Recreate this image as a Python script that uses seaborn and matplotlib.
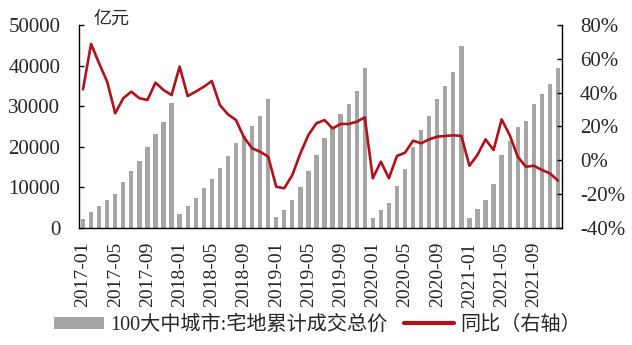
import numpy as np
import pandas as pd
import matplotlib
matplotlib.use("Agg")
import matplotlib.pyplot as plt
from matplotlib.ticker import FuncFormatter, FixedLocator
from matplotlib.patches import Patch
from matplotlib.lines import Line2D
import seaborn as sns

# Monthly land-sale data for the 100 large and mid-sized cities
months = [f"{y}-{m:02d}" for y in range(2017, 2022) for m in range(1, 13)]

# Cumulative residential land transaction value (100 million yuan)
land_value = [
    2100, 3860, 5340, 6820, 8300, 11260, 13970, 16600, 19970, 23100, 26060, 30740,
    3370, 5340, 7320, 9850, 12050, 14800, 17750, 20950, 22700, 25100, 27520, 31700,
    2680, 4400, 6860, 10080, 14000, 17950, 22150, 24900, 28020, 30520, 33760, 39390,
    2420, 4400, 6120, 10310, 14500, 19960, 24110, 27570, 31750, 34960, 38410, 44820,
    2420, 4640, 6860, 10810, 17990, 21500, 24880, 26430, 30540, 33000, 35470, 39410,
]

# Year-on-year change (%)
yoy = [
    42.0, 68.8, 57.3, 46.5, 27.8, 36.7, 40.6, 36.7, 35.7, 45.9, 41.6, 38.6,
    55.4, 38.0, 40.6, 43.5, 46.9, 32.7, 27.2, 23.8, 13.6, 7.1, 5.1, 2.2,
    -15.6, -16.5, -8.7, 4.1, 15.0, 21.9, 23.8, 18.9, 21.5, 21.5, 22.8, 25.4,
    -10.6, -0.8, -10.6, 2.6, 4.5, 11.6, 10.1, 12.4, 14.0, 14.4, 14.8, 14.4,
    -3.2, 3.2, 12.4, 6.1, 24.2, 15.0, 2.2, -3.8, -3.2, -5.7, -7.7, -12.0,
]

left_ticks = [0, 10000, 20000, 30000, 40000, 50000]
right_ticks = [-40, -20, 0, 20, 40, 60, 80]

bar_label = "100大中城市:宅地累计成交总价"
line_label = "同比（右轴）"
unit_label = "亿元"

BAR_COLOR = "#A6A6A6"
LINE_COLOR = "#B0111B"
FONT = ["Liberation Serif", "Noto Sans CJK SC"]

sns.set_style("white")
plt.rcParams["font.family"] = FONT
plt.rcParams["axes.unicode_minus"] = False

df = pd.DataFrame({"month": months, "value": land_value, "yoy": yoy})
df["pos"] = np.arange(len(df))

W, H = 632, 345
fig = plt.figure(figsize=(W / 100, H / 100), dpi=100)
ax = fig.add_axes([79 / W, 1 - 228 / H, (562 - 79) / W, (228 - 25) / H])

sns.barplot(data=df, x="month", y="value", color=BAR_COLOR, saturation=1,
            width=0.54, ax=ax, linewidth=0)
ax.set_xlim(-0.5, len(df) - 0.5)
ax.set_ylim(0, 50000)
ax.set_yticks(left_ticks)
ax.set_yticklabels([str(t) for t in left_ticks])
ax.set_xlabel("")
ax.set_ylabel("")

# Tick marks sit between groups of four months; labels sit under the first bar of each group
ax.xaxis.set_major_locator(FixedLocator(np.arange(-0.5, len(df), 4)))
ax.xaxis.set_major_formatter(FuncFormatter(lambda v, p: ""))
ax.xaxis.set_minor_locator(FixedLocator(np.arange(0, len(df), 4)))
ax.set_xticklabels(months[::4], minor=True, rotation=90)
ax.tick_params(axis="x", which="major", direction="out", length=4, width=1, color="black")
ax.tick_params(axis="x", which="minor", length=0, pad=10, labelsize=14)
ax.tick_params(axis="y", direction="in", length=3.5, width=1, color="black",
               pad=13.5, labelsize=15)

for s in ["top", "right"]:
    ax.spines[s].set_visible(False)
for s in ["left", "bottom"]:
    ax.spines[s].set_color("black")
    ax.spines[s].set_linewidth(1)

ax2 = ax.twinx()
sns.lineplot(data=df, x="pos", y="yoy", color=LINE_COLOR, linewidth=1.9, ax=ax2)
ax2.set_xlim(-0.5, len(df) - 0.5)
ax2.set_ylim(-40, 80)
ax2.set_yticks(right_ticks)
ax2.yaxis.set_major_formatter(FuncFormatter(lambda v, p: f"{int(round(v))}%"))
ax2.set_ylabel("")
ax2.set_xlabel("")
ax2.tick_params(axis="y", direction="in", length=3.5, width=1, color="black",
                pad=13, labelsize=15)
for s in ["top", "left", "bottom"]:
    ax2.spines[s].set_visible(False)
ax2.spines["right"].set_color("black")
ax2.spines["right"].set_linewidth(1)

fig.text(93 / W, 1 - 19 / H, unit_label, fontsize=13, va="center", ha="left",
         family=["Noto Sans CJK SC"])

handles = [Patch(facecolor=BAR_COLOR, edgecolor="none"),
           Line2D([0], [0], color=LINE_COLOR, linewidth=3)]
fig.legend(handles, [bar_label, line_label], loc="center",
           bbox_to_anchor=(0.502, 1 - 325 / H), ncol=2, frameon=False,
           fontsize=14.5, handlelength=2.5, handleheight=0.55,
           handletextpad=0.3, columnspacing=0.8, borderaxespad=0, borderpad=0)

fig.savefig("out.png", dpi=100, facecolor="white")
